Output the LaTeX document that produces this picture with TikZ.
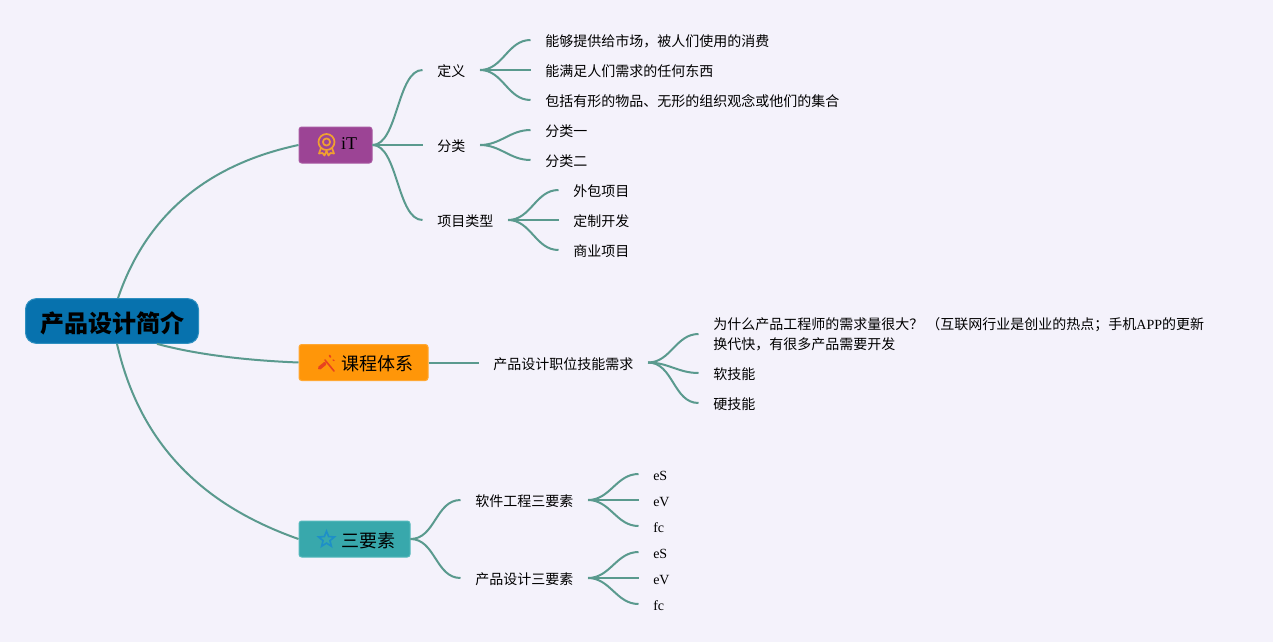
\documentclass[tikz,border=0pt]{standalone}
\usepackage{fontspec}
\setmainfont{Liberation Serif}
\newfontfamily\cjk{Noto Sans CJK SC}
\usetikzlibrary{calc,shapes.geometric}
\definecolor{bgc}{HTML}{F4F2FB}
\definecolor{linkc}{HTML}{5A9A8E}
\definecolor{rootc}{HTML}{0772AE}
\definecolor{rootb}{HTML}{2E8FBF}
\definecolor{purplec}{HTML}{9C4495}
\definecolor{purpleb}{HTML}{A85AA2}
\definecolor{orangec}{HTML}{FF9609}
\definecolor{orangeb}{HTML}{FFA833}
\definecolor{tealc}{HTML}{38A8AC}
\definecolor{tealb}{HTML}{55B9BC}
\definecolor{medal}{HTML}{F0A030}
\definecolor{hammer}{HTML}{E8431F}
\definecolor{starc}{HTML}{1E8FC8}
\tikzset{
  x=0.75pt,y=-0.75pt,
  leaf/.style={anchor=west,inner xsep=10.875pt,inner ysep=0pt,font=\fontsize{10.5pt}{15pt}\selectfont,text=black,text height=10.45pt,text depth=0pt},
  para/.style={anchor=west,inner xsep=10.875pt,inner ysep=0pt,align=left,font=\fontsize{10.5pt}{15pt}\selectfont,text=black},
  branch/.style={anchor=west,rounded corners=2pt,line width=0.75pt,minimum height=27pt,inner xsep=11.25pt,inner ysep=0pt,font=\fontsize{13.5pt}{16pt}\selectfont,text=black,text height=12.5pt,text depth=0pt},
  rootbox/.style={anchor=west,rounded corners=8pt,line width=0.75pt,draw=rootb,fill=rootc,minimum height=33.5pt,minimum width=129.75pt,inner sep=0pt,font=\fontsize{18pt}{20pt}\selectfont\bfseries,text=black,text height=17pt,text depth=0pt},
  link/.style={draw=linkc,line width=1.5pt},
  sc/.style={out=0,in=180,looseness=1},
  sctall/.style={out=0,in=180,looseness=0.72}
}
\begin{document}
\begin{tikzpicture}
\useasboundingbox (0,0) rectangle (1273,642);
\fill[bgc] (0,0) rectangle (1273,642);

% nodes
\node[rootbox] (root) at (25,321) {\cjk 产品设计简介};
\node[branch,draw=purpleb,fill=purplec,minimum width=54.4pt,text height=9.5pt,text depth=3pt] (it) at (298.5,145) {\hspace*{20.25pt}iT};
\node[branch,draw=orangeb,fill=orangec,minimum width=96.4pt] (kc) at (298.5,362.5) {\hspace*{20.25pt}{\cjk 课程体系}};
\node[branch,draw=tealb,fill=tealc,minimum width=83pt] (sy) at (298.5,539) {\hspace*{20.25pt}{\cjk 三要素}};

\node[leaf] (dy) at (422.5,70) {\cjk 定义};
\node[leaf] (fl) at (422.5,145) {\cjk 分类};
\node[leaf] (xm) at (422.5,220) {\cjk 项目类型};
\node[leaf] (d1) at (530.5,40) {\cjk 能够提供给市场，被人们使用的消费};
\node[leaf] (d2) at (530.5,70) {\cjk 能满足人们需求的任何东西};
\node[leaf] (d3) at (530.5,100) {\cjk 包括有形的物品、无形的组织观念或他们的集合};
\node[leaf] (f1) at (530.5,130) {\cjk 分类一};
\node[leaf] (f2) at (530.5,160) {\cjk 分类二};
\node[leaf] (x1) at (558.5,190) {\cjk 外包项目};
\node[leaf] (x2) at (558.5,220) {\cjk 定制开发};
\node[leaf] (x3) at (558.5,250) {\cjk 商业项目};

\node[leaf] (zw) at (478.5,362.5) {\cjk 产品设计职位技能需求};
\node[para] (w1) at (698.5,334) {{\cjk 为什么产品工程师的需求量很大？ （互联网行业是创业的热点；手机}APP{\cjk 的更新}\\{\cjk 换代快，有很多产品需要开发}};
\node[leaf] (w2) at (698.5,373) {\cjk 软技能};
\node[leaf] (w3) at (698.5,403) {\cjk 硬技能};

\node[leaf] (rg) at (460.5,500) {\cjk 软件工程三要素};
\node[leaf] (cp) at (460.5,578) {\cjk 产品设计三要素};
\node[leaf] (r1) at (638.5,474) {eS};
\node[leaf] (r2) at (638.5,500) {eV};
\node[leaf] (r3) at (638.5,526) {fc};
\node[leaf] (c1) at (638.5,552) {eS};
\node[leaf] (c2) at (638.5,578) {eV};
\node[leaf] (c3) at (638.5,604) {fc};

% root links
\draw[link] ($(root.north)+(6,0)$) .. controls ($(root.north)+(40,-100)$) and ($(it.west)+(-70,15)$) .. (it.west);
\draw[link] ($(root.south)+(45,0)$) .. controls ($(root.south)+(85,11)$) and ($(kc.west)+(-50,-2)$) .. (kc.west);
\draw[link] ($(root.south)+(5,0)$) .. controls ($(root.south)+(30,110)$) and ($(sy.west)+(-85,-30)$) .. (sy.west);

% branch links
\foreach \a/\b in {it/dy,it/xm}
  \draw[link] (\a.east) to[sctall] (\b.west);
\foreach \a/\b in {it/fl,dy/d1,dy/d2,dy/d3,fl/f1,fl/f2,xm/x1,xm/x2,xm/x3,kc/zw,zw/w1,zw/w2,zw/w3,sy/rg,sy/cp,rg/r1,rg/r2,rg/r3,cp/c1,cp/c2,cp/c3}
  \draw[link] (\a.east) to[sc] (\b.west);

% medal icon
\begin{scope}[draw=medal,line width=1.3pt,line join=round]
\draw (326.5,142) circle (8);
\draw (326.5,142) circle (3.6);
\draw (321,148) -- (319,153.5) -- (322.5,153) -- (324.5,155.5) -- (326.5,151) -- (328.5,155.5) -- (330.5,153) -- (334,153.5) -- (332,148);
\end{scope}
% hammer icon
\begin{scope}[draw=hammer,line cap=round]
\draw[line width=2.6pt] (319.5,368) -- (325,363.5);
\draw[line width=1.2pt] (325,360) -- (334,371);
\draw[line width=1.3pt] (329.5,355.5) -- (330.5,357);
\draw[line width=1pt] (333,360) -- (334,360.5);
\end{scope}
% star icon
\node[star,star points=5,star point ratio=2.3,draw=starc,line width=1.2pt,minimum size=12.5pt,inner sep=0pt] (staricon) at (326.5,539.5) {};
\end{tikzpicture}
\end{document}
